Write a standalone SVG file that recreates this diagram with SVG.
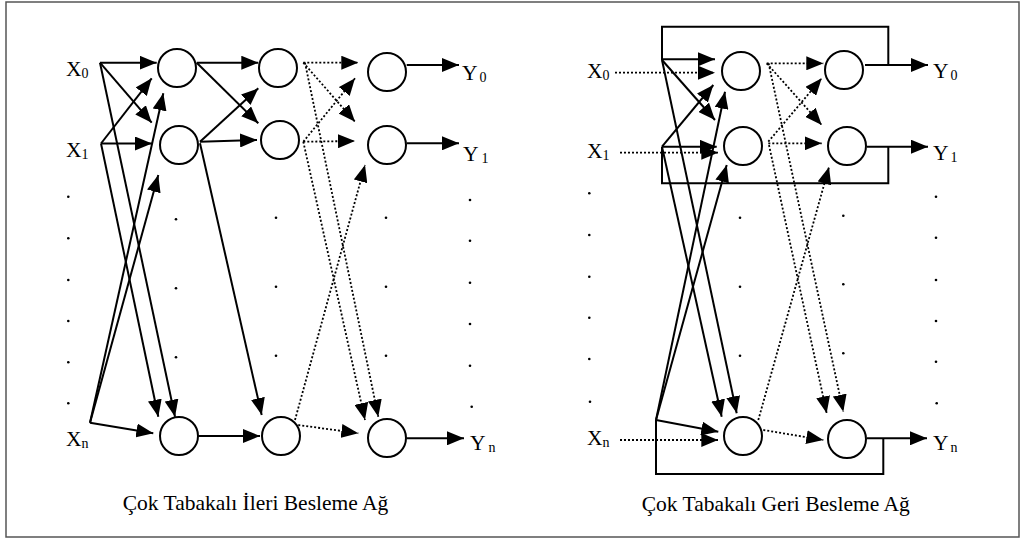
<svg xmlns="http://www.w3.org/2000/svg" width="1021" height="538" viewBox="0 0 1021 538">
<style>
.n{fill:#fff;stroke:#000;stroke-width:2}
.s{stroke:#000;stroke-width:2;fill:none}
.d{stroke:#000;stroke-width:1.8;stroke-dasharray:2 2;fill:none}
.a{marker-end:url(#ah)}
.t{font-family:"Liberation Serif","Times New Roman",serif;font-size:21.5px;fill:#000}
.sub{font-size:14px}
.dot{fill:#000}
</style>
<defs>
<marker id="ah" markerUnits="userSpaceOnUse" markerWidth="17" markerHeight="14" refX="17" refY="7" orient="auto" viewBox="0 0 17 14">
<path d="M0,0 L17,7 L0,14 Z" fill="#000"/>
</marker>
</defs>
<rect x="6" y="2" width="1013" height="535" fill="#fff" stroke="#555" stroke-width="1.5"/>

<g id="connectors">
<!-- left network -->
<line class="s a" x1="100" y1="62.7" x2="156.7" y2="62.7"/>
<line class="s a" x1="100" y1="62.7" x2="151.7" y2="122.7"/>
<line class="s a" x1="100" y1="62.7" x2="175" y2="416.7"/>
<line class="s a" x1="101" y1="143.5" x2="151.7" y2="78.3"/>
<line class="s a" x1="101" y1="143.5" x2="152" y2="143.5"/>
<line class="s a" x1="101" y1="143.5" x2="158.3" y2="416.7"/>
<line class="s a" x1="90" y1="422.7" x2="163.3" y2="93.3"/>
<line class="s a" x1="90" y1="422.7" x2="158.3" y2="175"/>
<line class="s a" x1="90" y1="422.7" x2="153.3" y2="433.3"/>
<line class="s a" x1="196.7" y1="62.7" x2="258.3" y2="62.7"/>
<line class="s a" x1="196.7" y1="62.7" x2="258.3" y2="123.3"/>
<line class="s a" x1="200" y1="141.7" x2="258.3" y2="88.3"/>
<line class="s a" x1="200" y1="141.7" x2="257" y2="140"/>
<line class="s a" x1="200" y1="143.3" x2="261.7" y2="415"/>
<line class="s a" x1="198.3" y1="436" x2="260" y2="436"/>
<line class="d a" x1="303.3" y1="62.7" x2="358.3" y2="62.7"/>
<line class="d a" x1="303.3" y1="62.7" x2="355" y2="121.7"/>
<line class="d a" x1="305" y1="62.7" x2="378.3" y2="416.7"/>
<line class="d a" x1="303.3" y1="141.7" x2="355" y2="78.3"/>
<line class="d a" x1="303.3" y1="141.7" x2="355" y2="141"/>
<line class="d a" x1="303.3" y1="141.7" x2="365" y2="420"/>
<line class="d a" x1="295" y1="420" x2="365" y2="165"/>
<line class="d a" x1="298.3" y1="425" x2="358.3" y2="433.3"/>
<line class="s a" x1="406.7" y1="65" x2="459" y2="65"/>
<line class="s a" x1="406.7" y1="143.3" x2="459" y2="143.3"/>
<line class="s a" x1="406.7" y1="438.3" x2="464" y2="438.3"/>
<!-- right network: feedback frames -->
<polyline class="s" points="888.3,65 888.3,26.7 662,26.7 662,60"/>
<polyline class="s" points="888.3,146.7 888.3,183.3 662,183.3 662,146.7"/>
<polyline class="s" points="883.3,438.3 883.3,474 656,474 656,420"/>
<!-- right network: inputs -->
<line class="d a" x1="615" y1="72.7" x2="715" y2="72.7"/>
<line class="d a" x1="620" y1="152.7" x2="718.3" y2="152.7"/>
<line class="d a" x1="620" y1="440" x2="718.3" y2="440"/>
<line class="s a" x1="662" y1="59.3" x2="715" y2="59.3"/>
<line class="s a" x1="662" y1="60" x2="715" y2="120"/>
<line class="s a" x1="662" y1="60" x2="736.7" y2="413.3"/>
<line class="s a" x1="662" y1="146.7" x2="713.3" y2="85"/>
<line class="s a" x1="662" y1="146.7" x2="716.7" y2="146.7"/>
<line class="s a" x1="662" y1="146.7" x2="721.7" y2="416.7"/>
<line class="s a" x1="656" y1="420" x2="725" y2="91.7"/>
<line class="s a" x1="656" y1="420" x2="726.7" y2="165"/>
<line class="s a" x1="656" y1="420" x2="718.3" y2="431.7"/>
<!-- right network: hidden to output -->
<line class="d a" x1="766.7" y1="63.3" x2="823.3" y2="63.3"/>
<line class="d a" x1="766.7" y1="63.3" x2="821.7" y2="125"/>
<line class="d a" x1="768.6" y1="63.3" x2="843.3" y2="411.7"/>
<line class="d a" x1="768.3" y1="141.7" x2="821.7" y2="78.3"/>
<line class="d a" x1="768.3" y1="143.3" x2="821.7" y2="143.3"/>
<line class="d a" x1="769" y1="145" x2="826.7" y2="413.3"/>
<line class="d a" x1="758.3" y1="420" x2="829" y2="167"/>
<line class="d a" x1="763.3" y1="430" x2="823.3" y2="440"/>
<line class="s a" x1="865" y1="65" x2="928" y2="65"/>
<line class="s a" x1="867" y1="146.7" x2="928" y2="146.7"/>
<line class="s a" x1="867" y1="438.3" x2="927" y2="438.3"/>
</g>

<!-- left network nodes -->
<g id="L-h1-0"><circle class="n" cx="177" cy="68" r="19"/></g>
<g id="L-h1-1"><circle class="n" cx="179" cy="145" r="19"/></g>
<g id="L-h1-n"><circle class="n" cx="179" cy="436" r="19"/></g>
<g id="L-h2-0"><circle class="n" cx="278" cy="68" r="19"/></g>
<g id="L-h2-1"><circle class="n" cx="280" cy="140" r="19"/></g>
<g id="L-h2-n"><circle class="n" cx="281" cy="436" r="19"/></g>
<g id="L-o-0"><circle class="n" cx="387" cy="72" r="19"/></g>
<g id="L-o-1"><circle class="n" cx="387" cy="145" r="19"/></g>
<g id="L-o-n"><circle class="n" cx="387" cy="438" r="19"/></g>
<g id="L-x0"><text class="t" x="66" y="76">X<tspan class="sub" dy="2">0</tspan></text></g>
<g id="L-x1"><text class="t" x="66" y="157">X<tspan class="sub" dy="2">1</tspan></text></g>
<g id="L-xn"><text class="t" x="66" y="446">X<tspan class="sub" dy="2">n</tspan></text></g>
<g id="L-y0"><text class="t" x="462" y="80">Y<tspan class="sub" dx="2" dy="2">0</tspan></text></g>
<g id="L-y1"><text class="t" x="463" y="161">Y<tspan class="sub" dx="3" dy="2">1</tspan></text></g>
<g id="L-yn"><text class="t" x="470" y="450">Y<tspan class="sub" dx="3" dy="2">n</tspan></text></g>

<!-- right network nodes -->
<g id="R-h-0"><circle class="n" cx="741" cy="71" r="19"/></g>
<g id="R-h-1"><circle class="n" cx="743" cy="146" r="19"/></g>
<g id="R-h-n"><circle class="n" cx="743" cy="436" r="19"/></g>
<g id="R-o-0"><circle class="n" cx="844" cy="70" r="19"/></g>
<g id="R-o-1"><circle class="n" cx="847" cy="146" r="19"/></g>
<g id="R-o-n"><circle class="n" cx="847" cy="439" r="19"/></g>
<g id="R-x0"><text class="t" x="587" y="78">X<tspan class="sub" dy="2">0</tspan></text></g>
<g id="R-x1"><text class="t" x="587" y="158">X<tspan class="sub" dy="2">1</tspan></text></g>
<g id="R-xn"><text class="t" x="587" y="445">X<tspan class="sub" dy="2">n</tspan></text></g>
<g id="R-y0"><text class="t" x="933" y="78">Y<tspan class="sub" dx="2" dy="2">0</tspan></text></g>
<g id="R-y1"><text class="t" x="933" y="160">Y<tspan class="sub" dx="2" dy="2">1</tspan></text></g>
<g id="R-yn"><text class="t" x="933" y="450">Y<tspan class="sub" dx="2" dy="2">n</tspan></text></g>

<g id="ellipsis-dots">
<circle class="dot" cx="68.3" cy="196.7" r="1.3"/><circle class="dot" cx="68.3" cy="238.3" r="1.3"/><circle class="dot" cx="68.3" cy="280" r="1.3"/><circle class="dot" cx="68.3" cy="321" r="1.3"/><circle class="dot" cx="68.3" cy="362.3" r="1.3"/><circle class="dot" cx="68.3" cy="403.3" r="1.3"/>
<circle class="dot" cx="176" cy="219.3" r="1.3"/><circle class="dot" cx="176" cy="288.3" r="1.3"/><circle class="dot" cx="176" cy="357.3" r="1.3"/>
<circle class="dot" cx="276" cy="217.7" r="1.3"/><circle class="dot" cx="276" cy="286.7" r="1.3"/><circle class="dot" cx="276" cy="355.7" r="1.3"/>
<circle class="dot" cx="386" cy="217.7" r="1.3"/><circle class="dot" cx="386" cy="286.7" r="1.3"/><circle class="dot" cx="386" cy="355.7" r="1.3"/>
<circle class="dot" cx="470" cy="200" r="1.3"/><circle class="dot" cx="470" cy="240.7" r="1.3"/><circle class="dot" cx="470" cy="282.7" r="1.3"/><circle class="dot" cx="470" cy="324" r="1.3"/><circle class="dot" cx="470" cy="365.7" r="1.3"/><circle class="dot" cx="471.7" cy="406.7" r="1.3"/>
<circle class="dot" cx="589.3" cy="193.3" r="1.3"/><circle class="dot" cx="589.3" cy="235" r="1.3"/><circle class="dot" cx="589.3" cy="276.7" r="1.3"/><circle class="dot" cx="589.3" cy="317.7" r="1.3"/><circle class="dot" cx="589.3" cy="359" r="1.3"/><circle class="dot" cx="590" cy="401.7" r="1.3"/>
<circle class="dot" cx="740" cy="217.7" r="1.3"/><circle class="dot" cx="740" cy="286.7" r="1.3"/><circle class="dot" cx="740" cy="355.7" r="1.3"/>
<circle class="dot" cx="843.3" cy="215.7" r="1.3"/><circle class="dot" cx="843.3" cy="284.3" r="1.3"/><circle class="dot" cx="843.3" cy="353.3" r="1.3"/>
<circle class="dot" cx="936" cy="196.7" r="1.3"/><circle class="dot" cx="936" cy="237.7" r="1.3"/><circle class="dot" cx="936" cy="280" r="1.3"/><circle class="dot" cx="936" cy="321" r="1.3"/><circle class="dot" cx="936" cy="361.7" r="1.3"/><circle class="dot" cx="936.7" cy="403.3" r="1.3"/>
</g>

<g id="captions">
<text class="t" x="122.7" y="510">Çok Tabakalı İleri Besleme Ağ</text>
<text class="t" x="641.7" y="511">Çok Tabakalı Geri Besleme Ağ</text>
</g>
</svg>
